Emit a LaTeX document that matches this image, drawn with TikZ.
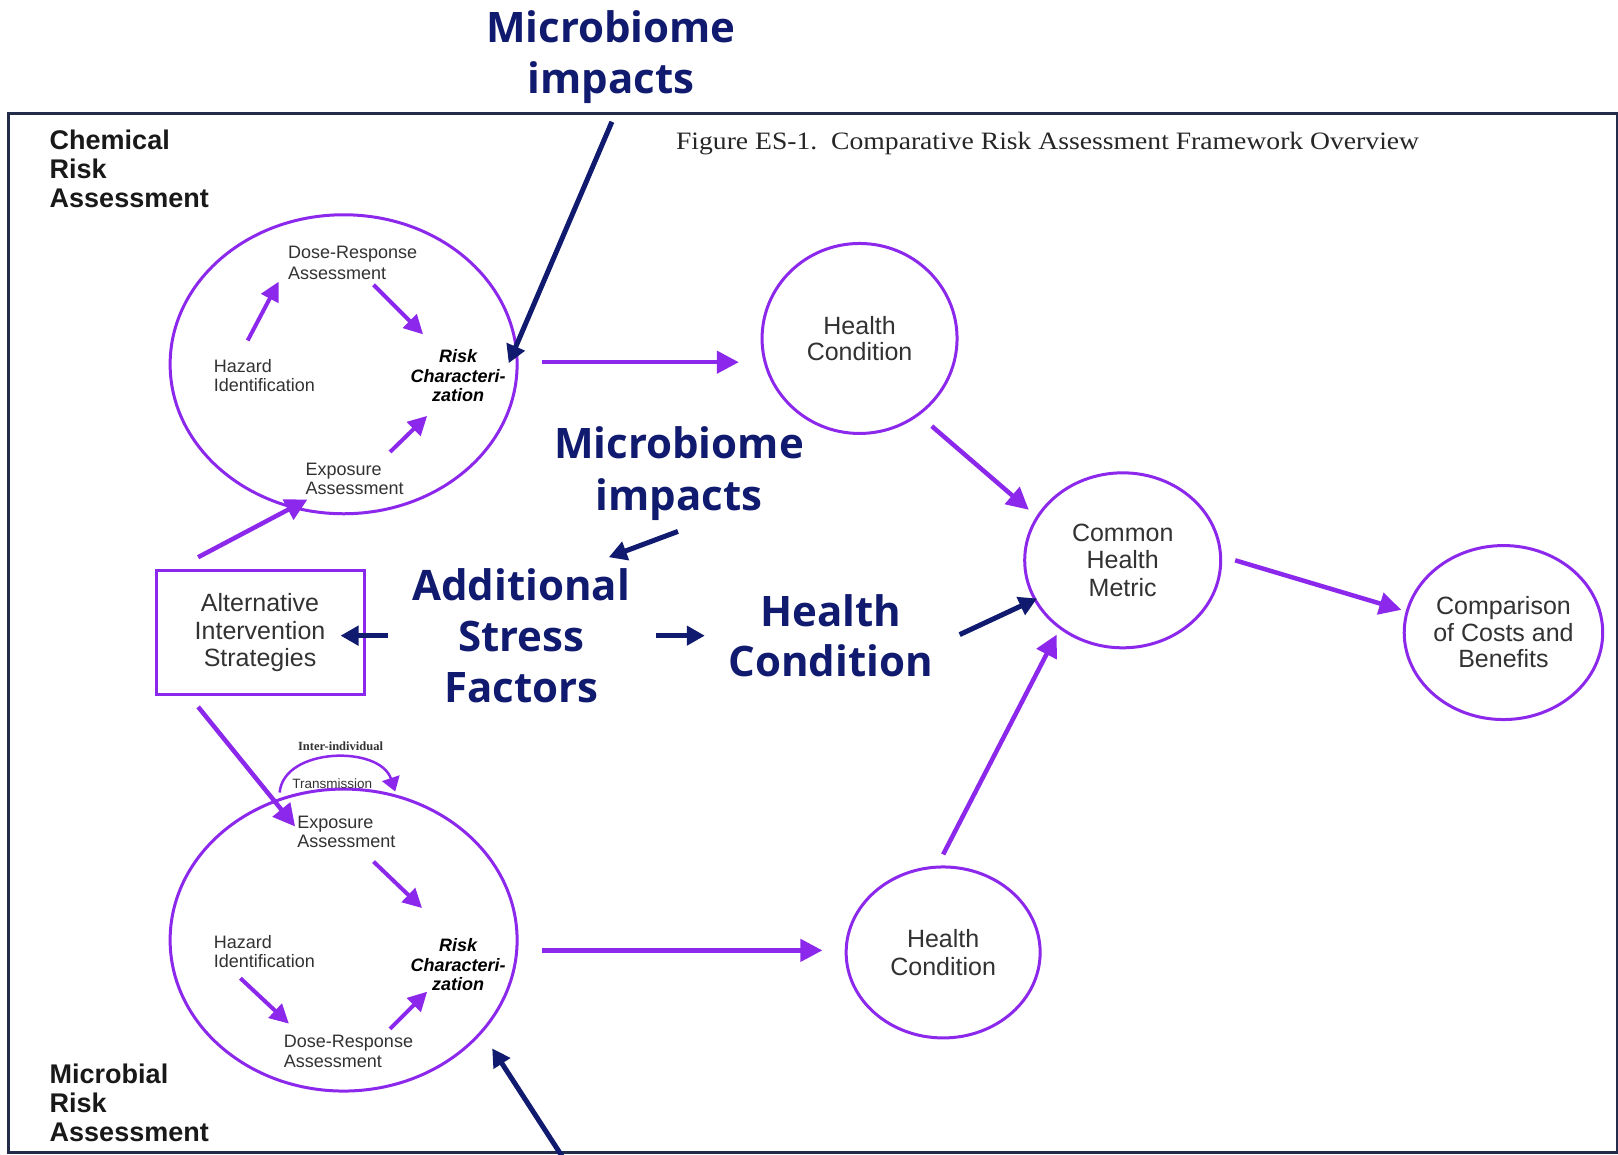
\documentclass[tikz,border=0pt]{standalone}
\usepackage{fontspec}
\setmainfont{Liberation Sans}
\newfontfamily\headfont{Open Sans}
\newfontfamily\figfont{Liberation Serif}
\usetikzlibrary{arrows.meta,shapes.geometric}
\definecolor{violetline}{RGB}{140,40,235}
\definecolor{navyink}{RGB}{16,26,110}
\definecolor{frameink}{RGB}{35,45,75}
\definecolor{bodytext}{RGB}{50,50,50}

\begin{document}
\begin{tikzpicture}[x=1.0319pt,y=-1.0319pt,
  ring/.style={draw=violetline,line width=3pt,ellipse,inner sep=0pt},
  stratbox/.style={draw=violetline,line width=3pt,rectangle,inner sep=0pt,
    minimum width=208pt,minimum height=124pt,align=center,text=bodytext,
    font=\fontsize{25}{27.3}\selectfont},
  ringtext/.style={align=center,text=bodytext,font=\fontsize{25}{26.5}\selectfont},
  small/.style={inner sep=0pt,text=bodytext,font=\fontsize{18}{19.5}\selectfont},
  riskchar/.style={inner sep=0pt,align=center,text=black,
    font=\fontsize{18}{19.6}\selectfont\bfseries\itshape},
  sidelabel/.style={inner sep=0pt,anchor=west,align=left,text=black!90,
    font=\fontsize{27}{28.9}\selectfont\bfseries},
  callout/.style={inner sep=0pt,align=center,text=navyink,
    font=\headfont\bfseries\fontsize{42}{51.2}\selectfont},
  parr/.style={draw=violetline,line width=4.5pt,-{Triangle[length=22pt,width=22pt]}},
  iarr/.style={draw=violetline,line width=4pt,-{Triangle[length=19pt,width=19pt]}},
  narr/.style={draw=navyink,line width=5pt,-{Triangle[length=18pt,width=19pt]}}
]
\useasboundingbox (0,0) rectangle (1568,1119.3);
\fill[white] (0,0) rectangle (1568,1119.3);

% outer frame of the framework figure
\draw[frameink,line width=2.5pt] (8,110) rectangle (1567,1117);

% figure caption
\node[anchor=west,inner sep=0pt,font=\figfont\fontsize{25}{28}\selectfont,text=black!85]
  (caption) at (655,139) {\resizebox{743pt}{\height}{Figure ES-1.\ \ Comparative Risk Assessment Framework Overview}};

% side labels
\node[sidelabel] (chemlab) at (48,164) {Chemical\\Risk\\Assessment};
\node[sidelabel] (microlab) at (48,1069) {Microbial\\Risk\\Assessment};

% main rings
\node[ring,minimum width=347pt,minimum height=299pt] (chem) at (333,353) {};
\node[ring,minimum width=347pt,minimum height=302pt] (micro) at (333,911) {};
\node[ring,minimum width=195pt,minimum height=190pt,ringtext] (hcone) at (833,328) {Health\\Condition};
\node[ring,minimum width=196pt,minimum height=175pt,ringtext,font=\fontsize{25}{27.3}\selectfont] (chm) at (1088,543) {Common\\Health\\Metric};
\node[ring,minimum width=196pt,minimum height=174pt,ringtext] (cmp) at (1457,613) {Comparison\\of Costs and\\Benefits};
\node[ring,minimum width=194pt,minimum height=171pt,ringtext,font=\fontsize{25}{27.6}\selectfont] (hctwo) at (914,923) {Health\\Condition};

% strategies box
\node[stratbox] (strat) at (252,613) {Alternative\\Intervention\\Strategies};

% chemical ring contents
\node[small,anchor=west,align=left,font=\fontsize{18}{21}\selectfont] (cdose) at (279,255) {Dose-Response\\Assessment};
\node[small,anchor=west,align=left] (chaz) at (207,364) {Hazard\\Identification};
\node[riskchar] (crisk) at (444,364) {Risk\\Characteri-\\zation};
\node[small,anchor=west,align=left] (cexp) at (296,464) {Exposure\\Assessment};

% microbial ring contents
\node[small,anchor=west,align=left] (mexp) at (288,806) {Exposure\\Assessment};
\node[small,anchor=west,align=left] (mhaz) at (207,922) {Hazard\\Identification};
\node[riskchar] (mrisk) at (444,935) {Risk\\Characteri-\\zation};
\node[small,anchor=west,align=left] (mdose) at (275,1019) {Dose-Response\\Assessment};
\node[inner sep=0pt,font=\figfont\bfseries\fontsize{12.5}{14}\selectfont,text=black!80] (inter) at (330,723) {Inter-individual};
\node[inner sep=0pt,font=\fontsize{13.5}{15}\selectfont,text=bodytext] (trans) at (322,759) {Transmission};

% callouts
\node[callout] (mbtop) at (592,55) {Microbiome\\impacts};
\node[callout] (mbmid) at (658,459) {Microbiome\\impacts};
\node[callout,font=\headfont\bfseries\fontsize{42}{50.8}\selectfont] (asf) at (505,616) {Additional\\Stress\\Factors};
\node[callout,font=\headfont\bfseries\fontsize{42}{50.6}\selectfont] (hcnavy) at (805,616) {Health\\Condition};

% arrow end points
\coordinate (a1s) at (593,118);   \coordinate (a1e) at (493,352);
\coordinate (p1s) at (240,330);   \coordinate (p1e) at (270,273);
\coordinate (p2s) at (362,276);   \coordinate (p2e) at (410,324);
\coordinate (p3s) at (378,438);   \coordinate (p3e) at (414,403);
\coordinate (p4s) at (192,540);   \coordinate (p4e) at (298,484);
\coordinate (p5s) at (525,351);   \coordinate (p5e) at (716,351);
\coordinate (p6s) at (903,413);   \coordinate (p6e) at (997,494);
\coordinate (p7s) at (1197,543);  \coordinate (p7e) at (1358,591);
\coordinate (n2s) at (657,515);   \coordinate (n2e) at (590,540);
\coordinate (n3s) at (376,616);   \coordinate (n3e) at (330,616);
\coordinate (n4s) at (636,616);   \coordinate (n4e) at (683,616);
\coordinate (n5s) at (930,615);   \coordinate (n5e) at (1005,580);
\coordinate (p8s) at (192,685);   \coordinate (p8e) at (286,801);
\coordinate (p9s) at (362,835);   \coordinate (p9e) at (409,880);
\coordinate (p10s) at (233,948);  \coordinate (p10e) at (280,992);
\coordinate (p11s) at (378,997);  \coordinate (p11e) at (414,961);
\coordinate (p12s) at (525,921);  \coordinate (p12e) at (797,921);
\coordinate (p13s) at (914,828);  \coordinate (p13e) at (1024,615);
\coordinate (n6s) at (545,1121);  \coordinate (n6e) at (477,1016);
\coordinate (ts) at (271,768);    \coordinate (te) at (383,767);

% purple flow arrows
\draw[iarr] (p1s) -- (p1e);
\draw[iarr] (p2s) -- (p2e);
\draw[iarr] (p3s) -- (p3e);
\draw[parr] (p4s) -- (p4e);
\draw[parr] (p5s) -- (p5e);
\draw[parr] (p6s) -- (p6e);
\draw[parr] (p7s) -- (p7e);
\draw[parr] (p8s) -- (p8e);
\draw[iarr] (p9s) -- (p9e);
\draw[iarr] (p10s) -- (p10e);
\draw[iarr] (p11s) -- (p11e);
\draw[parr] (p12s) -- (p12e);
\draw[parr] (p13s) -- (p13e);
\draw[draw=violetline,line width=2.5pt,-{Triangle[length=14pt,width=18pt]}]
  (ts) .. controls (275,724) and (368,722) .. (te);

% navy annotation arrows
\draw[narr] (a1s) -- (a1e);
\draw[narr] (n2s) -- (n2e);
\draw[narr] (n3s) -- (n3e);
\draw[narr] (n4s) -- (n4e);
\draw[narr] (n5s) -- (n5e);
\draw[narr] (n6s) -- (n6e);
\end{tikzpicture}
\end{document}
